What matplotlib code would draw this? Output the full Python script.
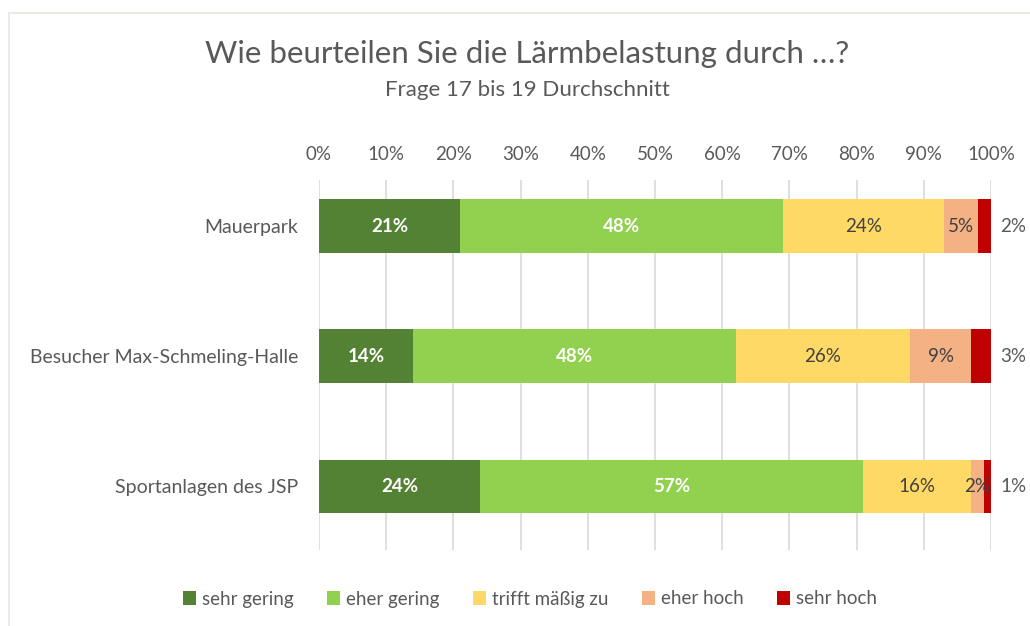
import matplotlib
matplotlib.use("Agg")
import matplotlib.pyplot as plt
from matplotlib.lines import Line2D
from matplotlib.patches import Patch

plt.rcParams['font.family'] = ['Lato', 'DejaVu Sans']

categories = ["Mauerpark", "Besucher Max-Schmeling-Halle", "Sportanlagen des JSP"]
series = ["sehr gering", "eher gering", "trifft mäßig zu", "eher hoch", "sehr hoch"]
sehr_gering = [21, 14, 24]
eher_gering = [48, 48, 57]
trifft_maessig = [24, 26, 16]
eher_hoch = [5, 9, 2]
sehr_hoch = [2, 3, 1]
values = [sehr_gering, eher_gering, trifft_maessig, eher_hoch, sehr_hoch]
colors = ["#548235", "#92d050", "#ffd966", "#f4b183", "#c00000"]
label_colors = ["white", "white", "#404040", "#404040", "#595959"]
label_bold = [True, True, False, False, False]
ticks = [0, 10, 20, 30, 40, 50, 60, 70, 80, 90, 100]
tick_labels = [f"{t}%" for t in ticks]

W, H = 1030, 626
fig = plt.figure(figsize=(W / 100, H / 100), dpi=100)
ax = fig.add_axes([319 / W, 1 - 550 / H, (991 - 319) / W, (550 - 180) / H])

y = list(range(len(categories)))
left = [0] * len(categories)
for si, (vals, col) in enumerate(zip(values, colors)):
    ax.barh(y, vals, left=left, height=0.41, color=col, zorder=3)
    for i, v in enumerate(vals):
        if si == len(values) - 1:
            ax.text(100 + 1.4, i, f"{v}%", va="center", ha="left", fontsize=13.5,
                    color=label_colors[si], zorder=4)
        else:
            ax.text(left[i] + v / 2, i, f"{v}%", va="center", ha="center", fontsize=13.5,
                    color=label_colors[si], fontweight="bold" if label_bold[si] else "normal",
                    zorder=4)
    left = [l + v for l, v in zip(left, vals)]

ax.set_xlim(0, 100)
ax.set_ylim(2.49, -0.354)
ax.set_xticks(ticks)
ax.set_xticklabels(tick_labels)
ax.xaxis.tick_top()
ax.tick_params(axis="x", length=0, pad=12, labelsize=13.5, labelcolor="#595959")
ax.set_yticks(y)
ax.set_yticklabels(categories)
ax.tick_params(axis="y", length=0, pad=15, labelsize=14, labelcolor="#595959")
ax.grid(axis="x", color="#d9d9d9", linewidth=1.2, zorder=0)
for s in ax.spines.values():
    s.set_visible(False)

fig.text(527 / W, 1 - 54 / H, "Wie beurteilen Sie die Lärmbelastung durch …?",
         ha="center", va="center", fontsize=22.5, color="#595959")
fig.text(527 / W, 1 - 90 / H, "Frage 17 bis 19 Durchschnitt",
         ha="center", va="center", fontsize=16, color="#595959")

handles = [Patch(facecolor=c, edgecolor="none") for c in colors]
fig.legend(handles, series, loc="center", bbox_to_anchor=(530 / W, 1 - 599 / H),
           ncol=5, frameon=False, fontsize=13.5, labelcolor="#595959",
           handlelength=0.7, handleheight=0.7, handletextpad=0.3, columnspacing=1.8)

fig.add_artist(Line2D([9 / W, 1], [1 - 13 / H, 1 - 13 / H], color="#e6e8dc", linewidth=1.2))
fig.add_artist(Line2D([9 / W, 9 / W], [0, 1 - 13 / H], color="#e8e8e8", linewidth=1.2))

fig.savefig("out.png", dpi=100, facecolor="white")
